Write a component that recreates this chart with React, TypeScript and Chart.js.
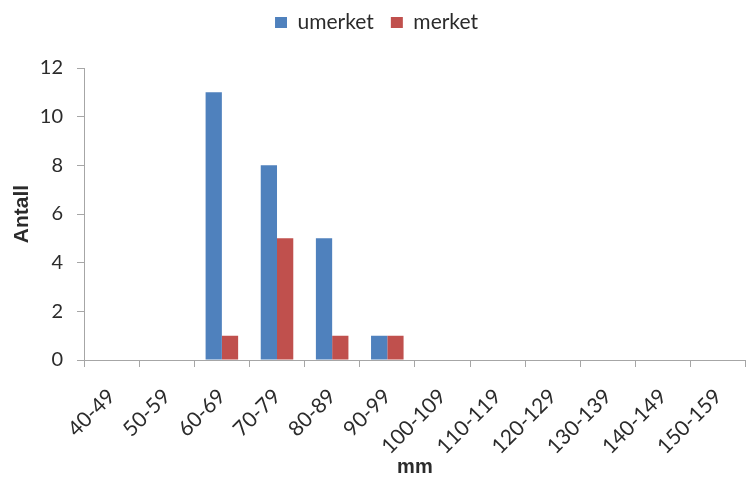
import React, { useEffect, useRef } from "react";
import { Chart, registerables } from "chart.js";

Chart.register(...registerables);

const categories = [
  "40-49", "50-59", "60-69", "70-79", "80-89", "90-99",
  "100-109", "110-119", "120-129", "130-139", "140-149", "150-159",
];
const umerket = [0, 0, 11, 8, 5, 1, 0, 0, 0, 0, 0, 0];
const merket = [0, 0, 1, 5, 1, 1, 0, 0, 0, 0, 0, 0];

const FONT = "Lato, 'Open Sans', sans-serif";
const TITLE_FONT = "'Liberation Sans', Arial, sans-serif";
const AXIS_GREY = "#a6a6a6";
const TEXT = "#2b2b2b";

export default function App() {
  const ref = useRef<HTMLCanvasElement | null>(null);

  useEffect(() => {
    document.body.style.margin = "0";
    const canvas = ref.current;
    if (!canvas) return;
    const chart = new Chart(canvas, {
      type: "bar",
      data: {
        labels: categories,
        datasets: [
          { label: "umerket", data: umerket, backgroundColor: "#4f81bd", borderWidth: 0 },
          { label: "merket", data: merket, backgroundColor: "#c0504d", borderWidth: 0 },
        ],
      },
      options: {
        responsive: false,
        animation: false,
        layout: { padding: { left: 0, right: 0, top: -5, bottom: 0 } },
        datasets: { bar: { categoryPercentage: 0.59, barPercentage: 1 } },
        plugins: {
          tooltip: { enabled: false },
          legend: {
            position: "top",
            labels: {
              font: { family: FONT, size: 21 },
              color: TEXT,
              boxWidth: 12,
              boxHeight: 11,
              padding: 17,
            },
          },
          // empty block that keeps a gap between the legend and the plot
          title: {
            display: true,
            text: "",
            weight: 100,
            font: { size: 1, lineHeight: 1 },
            padding: { top: 24, bottom: 0 },
          },
        },
        scales: {
          x: {
            offset: true,
            afterFit: (scale: any) => {
              scale.height = 119;
            },
            grid: {
              offset: true,
              drawOnChartArea: false,
              drawTicks: true,
              tickLength: 7,
              color: AXIS_GREY,
            },
            border: { color: AXIS_GREY, width: 1 },
            ticks: {
              autoSkip: false,
              minRotation: 45,
              maxRotation: 45,
              padding: 17,
              color: TEXT,
              font: { family: FONT, size: 21 },
            },
            title: {
              display: true,
              text: "mm",
              color: TEXT,
              font: { family: TITLE_FONT, size: 20, weight: "bold" },
              padding: { top: 0, bottom: 0 },
            },
          },
          y: {
            min: 0,
            max: 12,
            afterFit: (scale: any) => {
              scale.width = 84;
            },
            grid: {
              drawOnChartArea: false,
              drawTicks: true,
              tickLength: 7,
              color: AXIS_GREY,
            },
            border: { color: AXIS_GREY, width: 1 },
            ticks: {
              stepSize: 2,
              padding: 14,
              color: TEXT,
              font: { family: FONT, size: 20 },
            },
            title: {
              display: true,
              text: "Antall",
              color: TEXT,
              font: { family: TITLE_FONT, size: 21, weight: "bold" },
              padding: { top: 10, bottom: 0 },
            },
          },
        },
      },
    });
    return () => chart.destroy();
  }, []);

  return (
    <div style={{ width: 753, height: 479, background: "#fff" }}>
      <canvas ref={ref} width={753} height={479} />
    </div>
  );
}
